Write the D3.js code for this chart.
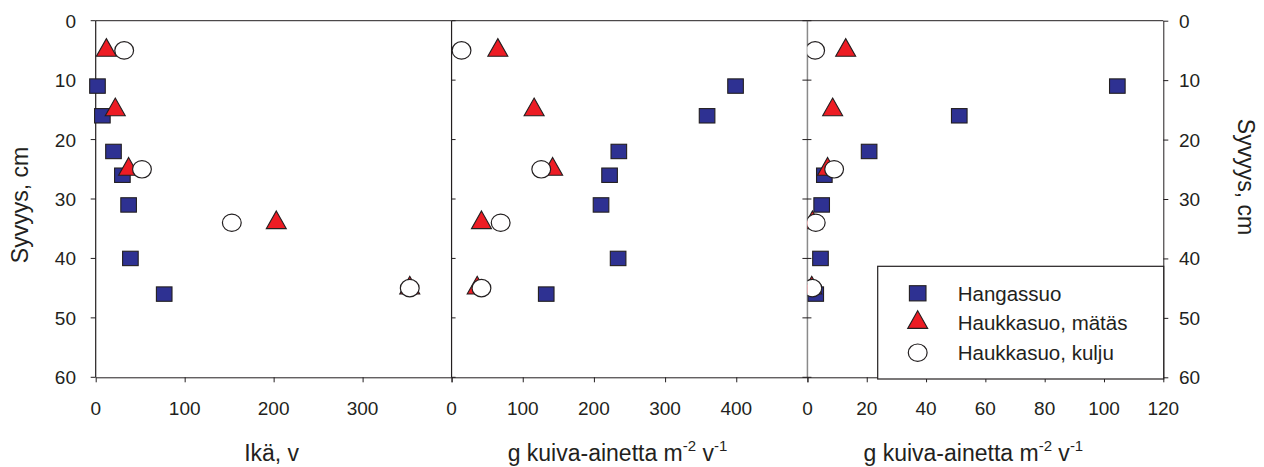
<!DOCTYPE html>
<html>
<head>
<meta charset="utf-8">
<script src="https://cdn.jsdelivr.net/npm/d3@7"></script>
<style>
  html, body { margin: 0; padding: 0; background: #fff; }
  svg { display: block; }
  text { font-family: "Liberation Sans", Arial, Helvetica, sans-serif; fill: #231f20; }
</style>
</head>
<body>
<svg id="chart" width="1264" height="467"></svg>
<script>
// ---- Data ----
const depthHangassuo = [11, 16, 22, 26, 31, 40, 46];
const depthMatas     = [5, 15, 25, 34, 45];
const depthKulju     = [5, 25, 34, 45];

// Panel 1: age (years)
const ageHangassuo = [2, 7.5, 20, 30, 37, 39, 77];
const ageMatas     = [12, 22, 37, 203, 353];
const ageKulju     = [32, 52, 153, 353];

// Panel 2: g dry matter m-2 yr-1
const accHangassuo = [399, 359, 235, 222, 210, 234, 133];
const accMatas     = [65, 116, 142, 42, 36];
const accKulju     = [14, 126, 69, 42];

// Panel 3: g dry matter m-2 yr-1 (second variable)
const acc2Hangassuo = [104.5, 51.2, 20.8, 5.7, 4.8, 4.4, 2.8];
const acc2Matas     = [12.9, 8.5, 6.8, 1.7, 1.45];
const acc2Kulju     = [2.6, 9.0, 2.8, 1.65];

const xDomains = [[0, 400], [0, 500], [0, 120]];
const xTicks = [[0, 100, 200, 300], [0, 100, 200, 300, 400], [0, 20, 40, 60, 80, 100, 120]];
const xTickMarks = [[0, 100, 200, 300, 400], [0, 100, 200, 300, 400, 500], [0, 20, 40, 60, 80, 100, 120]];
const yTicks = [0, 10, 20, 30, 40, 50, 60];
const xTitles = ["Ikä, v", "g kuiva-ainetta m", "g kuiva-ainetta m"];
const yTitle = "Syvyys, cm";
const seriesNames = ["Hangassuo", "Haukkasuo, mätäs", "Haukkasuo, kulju"];

// ---- Layout ----
const svg = d3.select("#chart");
const pLeft = 95.7, pRight = 1163.3, pTop = 20.7, pBottom = 377.3;
const pw = (pRight - pLeft) / 3;
const ink = "#231f20";
const blue = "#2e3192", red = "#ed1c24";

const y = d3.scaleLinear().domain([0, 60]).range([pTop, pBottom]);

const panelData = [
  [ageHangassuo, ageMatas, ageKulju],
  [accHangassuo, accMatas, accKulju],
  [acc2Hangassuo, acc2Matas, acc2Kulju]
];
const depths = [depthHangassuo, depthMatas, depthKulju];

const sqW = 15.6, sqH = 14.4;
const triW = 20, triH = 17.7;
const cRx = 9.4, cRy = 8.7;

function drawSquare(g, cx, cy) {
  g.append("rect").attr("x", cx - sqW / 2).attr("y", cy - sqH / 2)
    .attr("width", sqW).attr("height", sqH)
    .attr("fill", blue).attr("stroke", ink).attr("stroke-width", 1.1);
}
function drawTri(g, cx, cy) {
  const p = d3.path();
  p.moveTo(cx, cy - triH * 2 / 3);
  p.lineTo(cx + triW / 2, cy + triH / 3);
  p.lineTo(cx - triW / 2, cy + triH / 3);
  p.closePath();
  g.append("path").attr("d", p.toString())
    .attr("fill", red).attr("stroke", ink).attr("stroke-width", 1.1);
}
function drawCirc(g, cx, cy) {
  g.append("ellipse").attr("cx", cx).attr("cy", cy).attr("rx", cRx).attr("ry", cRy)
    .attr("fill", "#fff").attr("stroke", ink).attr("stroke-width", 1.2);
}
const drawers = [drawSquare, drawTri, drawCirc];

const tickFont = 19;

// clip for the right panel (markers cut at its left axis)
svg.append("defs").append("clipPath").attr("id", "clip3")
  .append("rect").attr("x", pLeft + 2 * pw).attr("y", 0).attr("width", pw + 20).attr("height", 467);

for (let i = 0; i < 3; i++) {
  const x0 = pLeft + i * pw, x1 = x0 + pw;
  const x = d3.scaleLinear().domain(xDomains[i]).range([x0, x1]);
  const g = svg.append("g");

  // bottom axis
  const ax = d3.axisBottom(x).tickValues(xTickMarks[i]).tickSize(5).tickSizeOuter(0).tickFormat("");
  const axg = g.append("g").attr("transform", `translate(0,${pBottom})`).call(ax);
  axg.select(".domain").attr("stroke", ink);
  axg.selectAll(".tick line").attr("stroke", ink);
  g.selectAll(null).data(xTicks[i]).enter().append("text")
    .attr("x", d => x(d)).attr("y", 415)
    .attr("text-anchor", "middle").attr("font-size", tickFont)
    .text(d => d);

  // top border
  g.append("line").attr("x1", x0).attr("x2", x1).attr("y1", pTop).attr("y2", pTop)
    .attr("stroke", ink).attr("stroke-width", 1);

  // left axis of each panel
  const lineColor = i === 2 ? "#8a8a8a" : ink;
  g.append("line").attr("x1", x0).attr("x2", x0).attr("y1", pTop).attr("y2", pBottom)
    .attr("stroke", lineColor).attr("stroke-width", i === 2 ? 1.5 : 1.2);
  g.selectAll(null).data(yTicks).enter().append("line")
    .attr("x1", i === 1 ? x0 : x0 - 5)
    .attr("x2", i === 0 ? x0 : x0 + 4)
    .attr("y1", d => y(d)).attr("y2", d => y(d))
    .attr("stroke", ink).attr("stroke-width", 1);

  // markers: squares, then triangles, then circles
  const mg = g.append("g");
  if (i === 2) mg.attr("clip-path", "url(#clip3)");
  for (let s = 0; s < 3; s++) {
    const vals = panelData[i][s];
    vals.forEach((v, k) => drawers[s](mg, x(v), y(depths[s][k])));
  }
}

// left y labels
svg.selectAll(null).data(yTicks).enter().append("text")
  .attr("x", 76).attr("y", d => y(d) + 7)
  .attr("text-anchor", "end").attr("font-size", tickFont).text(d => d);

// right axis
const ay = d3.axisRight(y).tickValues(yTicks).tickSize(5).tickSizeOuter(0).tickFormat("");
const ayg = svg.append("g").attr("transform", `translate(${pRight},0)`).call(ay);
ayg.select(".domain").attr("stroke", ink);
ayg.selectAll(".tick line").attr("stroke", ink);
svg.selectAll(null).data(yTicks).enter().append("text")
  .attr("x", 1179).attr("y", d => y(d) + 7)
  .attr("text-anchor", "start").attr("font-size", tickFont).text(d => d);

// x titles
const titleFont = 23;
svg.append("text").attr("x", pLeft + pw / 2 - 2).attr("y", 461)
  .attr("text-anchor", "middle").attr("font-size", titleFont).text(xTitles[0]);
for (let i = 1; i < 3; i++) {
  const t = svg.append("text").attr("x", pLeft + i * pw + pw / 2 - 12).attr("y", 461)
    .attr("text-anchor", "middle").attr("font-size", titleFont);
  t.append("tspan").text(xTitles[i]);
  t.append("tspan").attr("font-size", 15).attr("dy", -10).text("-2");
  t.append("tspan").attr("dy", 10).text(" v");
  t.append("tspan").attr("font-size", 15).attr("dy", -10).text("-1");
}

// y titles
svg.append("text").attr("transform", "translate(27.5,205) rotate(-90)")
  .attr("text-anchor", "middle").attr("font-size", titleFont).text(yTitle);
svg.append("text").attr("transform", "translate(1238,177) rotate(90)")
  .attr("text-anchor", "middle").attr("font-size", titleFont).text(yTitle);

// legend
const lg = svg.append("g");
lg.append("rect").attr("x", 877.7).attr("y", 266.3).attr("width", 286).attr("height", 112.7)
  .attr("fill", "#fff").attr("stroke", ink).attr("stroke-width", 1.2);
const rowY = [293.3, 322.5, 352.7];
seriesNames.forEach((name, k) => {
  if (k === 0) {
    lg.append("rect").attr("x", 917.7 - 8.3).attr("y", rowY[k] - 7.6).attr("width", 16.6).attr("height", 15.2)
      .attr("fill", blue).attr("stroke", ink).attr("stroke-width", 1.1);
  } else {
    drawers[k](lg, 917.7, rowY[k]);
  }
  lg.append("text").attr("x", 957.7).attr("y", rowY[k] + 7.7)
    .attr("font-size", 20.5).text(name);
});
</script>
</body>
</html>
